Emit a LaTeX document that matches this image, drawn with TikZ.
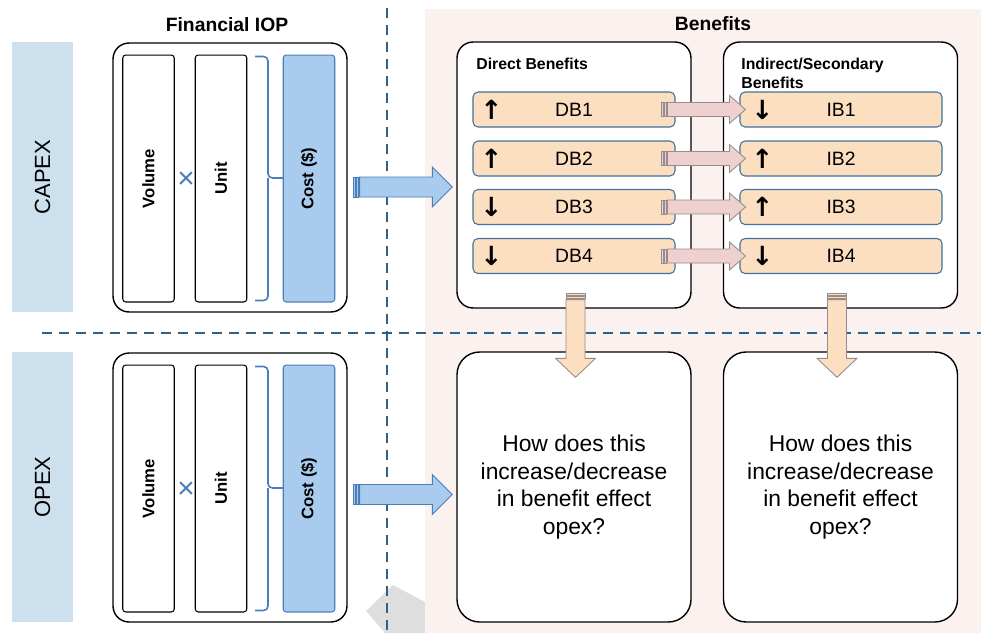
\documentclass[tikz,border=0pt]{standalone}
\usepackage{fontspec}
\setmainfont{Liberation Sans}
\newfontfamily\arrowfont{DejaVu Sans}
\usetikzlibrary{calc}

\definecolor{sidebg}{RGB}{205,224,238}
\definecolor{costfill}{RGB}{169,204,238}
\definecolor{costedge}{RGB}{74,126,187}
\definecolor{divblue}{RGB}{46,96,140}
\definecolor{pinkbg}{RGB}{251,241,239}
\definecolor{peach}{RGB}{252,222,192}
\definecolor{rowedge}{RGB}{65,113,156}
\definecolor{linkpink}{RGB}{238,208,206}
\definecolor{linkedge}{RGB}{150,140,140}
\definecolor{shadow}{RGB}{222,222,222}

% block arrow pointing right: tail, tip, shaft half, head half, head length, style
\newcommand{\rightblock}[6]{%
  \draw[#6] ($(#1)+(6,-#3)$) -- ($(#2)+(-#5,-#3)$) -- ($(#2)+(-#5,-#4)$) -- (#2)
    -- ($(#2)+(-#5,#4)$) -- ($(#2)+(-#5,#3)$) -- ($(#1)+(6,#3)$) -- cycle;
  \draw[#6] ($(#1)+(0,-#3)$) rectangle ($(#1)+(1.5,#3)$);
  \draw[#6] ($(#1)+(3,-#3)$) rectangle ($(#1)+(5,#3)$);
}
% block arrow pointing down
\newcommand{\downblock}[6]{%
  \draw[#6] ($(#1)+(-#3,6)$) -- ($(#2)+(-#3,-#5)$) -- ($(#2)+(-#4,-#5)$) -- (#2)
    -- ($(#2)+(#4,-#5)$) -- ($(#2)+(#3,-#5)$) -- ($(#1)+(#3,6)$) -- cycle;
  \draw[#6] ($(#1)+(-#3,0)$) rectangle ($(#1)+(#3,1.5)$);
  \draw[#6] ($(#1)+(-#3,3)$) rectangle ($(#1)+(#3,5)$);
}

\tikzset{
  sidebar/.style={fill=sidebg, minimum width=5.4cm, minimum height=1.22cm, inner sep=0pt,
    rotate=90, font=\fontsize{12.5}{14}\selectfont},
  panel/.style={draw=black, line width=0.8pt, fill=white, inner sep=0pt, rounded corners=0.32cm},
  column/.style={draw=black, line width=0.6pt, fill=white, rounded corners=0.06cm, inner sep=0pt,
    minimum width=4.94cm, minimum height=1.03cm, rotate=90, font=\bfseries\fontsize{9.5}{11}\selectfont},
  costcol/.style={column, fill=costfill, draw=costedge},
  benefit/.style={draw=rowedge, line width=0.6pt, fill=peach, rounded corners=0.1cm, inner sep=0pt,
    minimum width=4.04cm, minimum height=0.7cm, font=\fontsize{11}{13}\selectfont},
  updown/.style={font=\arrowfont\bfseries\fontsize{15}{15}\selectfont, inner sep=0pt},
  heading/.style={font=\bfseries\fontsize{11}{13}\selectfont, inner sep=0pt},
  subheading/.style={font=\bfseries\fontsize{9}{10.8}\selectfont, inner sep=0pt, align=left},
  question/.style={panel, rounded corners=0.45cm, minimum width=4.68cm, minimum height=5.4cm,
    align=center, font=\fontsize{13}{15.7}\selectfont},
  divider/.style={divblue, line width=1.1pt, dash pattern=on 0.2cm off 0.14cm},
  bracket/.style={costedge, line width=0.9pt, rounded corners=2.5pt},
  bluearrow/.style={fill=costfill, draw=costedge, line width=0.5pt},
  linkarrow/.style={fill=linkpink, draw=linkedge, line width=0.5pt},
  droparrow/.style={fill=peach, draw=linkedge, line width=0.5pt},
}

\begin{document}
\begin{tikzpicture}[x=0.02cm, y=-0.02cm]
\useasboundingbox (0,0) rectangle (981,633);
% faint grey shape at the bottom
\fill[shadow] (366,611) -- (393,585) -- (425,602) -- (425,633) -- (385,633) -- cycle;
% benefits background
\fill[pinkbg] (425,9) rectangle (981,633);
% quadrant dividers
\draw[divider] (387,8) -- (387,633);
\draw[divider] (42,333) -- (981,333);

% CAPEX / OPEX labels
\node[sidebar] (capex) at (42.5,177) {CAPEX};
\node[sidebar] (opex) at (42.5,487) {OPEX};

% Financial IOP
\node[heading] (fintitle) at (227,25) {Financial IOP};
\foreach \n/\y in {1/177.5, 2/487.5} {
  \node[panel, minimum width=4.68cm, minimum height=5.38cm] (fin\n) at (230,\y) {};
  \node[column] (vol\n) at (148.5,\y+1) {Volume};
  \node[column] (unit\n) at (221,\y+1) {Unit};
  \node[costcol] (cost\n) at (309,\y+1) {Cost (\$)};
  \node[text=costedge, font=\fontsize{17}{17}\selectfont, inner sep=0pt] (times\n) at (186,\y+2.5) {×};
  % bracket round volume x unit
  \draw[bracket] (255,\y-121) -- (268,\y-121) -- (268,\y+0.5) -- (283,\y+0.5);
  \draw[bracket] (268,\y+0.5) -- (268,\y+123) -- (255,\y+123);
}

% Benefits
\node[heading] (bentitle) at (713,24) {Benefits};
\node[panel, minimum width=4.68cm, minimum height=5.32cm] (direct) at (574,175) {};
\node[panel, minimum width=4.68cm, minimum height=5.32cm] (indirect) at (840.5,175) {};
\node[subheading, anchor=west] (dtitle) at (476,64) {Direct Benefits};
\node[subheading, anchor=north west] (ititle) at (741,57.5) {Indirect/Secondary\\Benefits};

\node[question] (q1) at (574,487) {How does this\\increase/decrease\\in benefit effect\\opex?};
\node[question] (q2) at (840.5,487) {How does this\\increase/decrease\\in benefit effect\\opex?};

\foreach \i/\y/\da/\ia in {1/109.5/↑/↓, 2/158.5/↑/↑, 3/207/↓/↑, 4/256/↓/↓} {
  \node[benefit] (db\i) at (574,\y) {DB\i};
  \node[benefit] (ib\i) at (841,\y) {IB\i};
  \node[updown] (dbarrow\i) at ($(db\i.west)+(19,0)$) {\da};
  \node[updown] (ibarrow\i) at ($(ib\i.west)+(23,0)$) {\ia};
  \coordinate (lt\i) at ($(db\i.east)+(-14,0)$);
  \coordinate (lh\i) at ($(ib\i.west)+(6,0)$);
  \rightblock{lt\i}{lh\i}{7}{14}{16}{linkarrow}
}

% cost flows into the benefits
\coordinate (bt1) at ($(fin1.east)+(6,9.5)$);
\coordinate (bh1) at ($(direct.west)+(-4,12)$);
\rightblock{bt1}{bh1}{10}{20}{20}{bluearrow}
\coordinate (bt2) at ($(fin2.east)+(6,7)$);
\coordinate (bh2) at ($(q1.west)+(-4,7.5)$);
\rightblock{bt2}{bh2}{10}{20}{20}{bluearrow}

% benefits drop into the opex questions
\coordinate (dt1) at ($(direct.south)+(1.5,-15)$);
\coordinate (dh1) at ($(q1.north)+(1.5,26)$);
\downblock{dt1}{dh1}{9.5}{20}{19}{droparrow}
\coordinate (dt2) at ($(indirect.south)+(-3.5,-15)$);
\coordinate (dh2) at ($(q2.north)+(-3.5,26)$);
\downblock{dt2}{dh2}{9.5}{20}{19}{droparrow}
\end{tikzpicture}
\end{document}
